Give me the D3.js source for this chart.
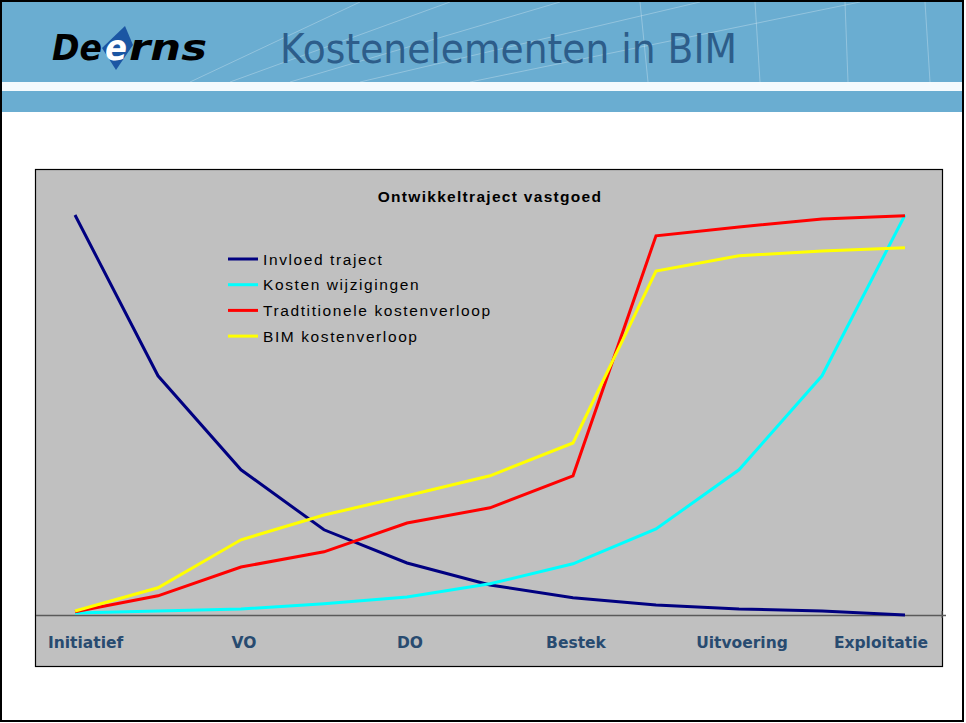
<!DOCTYPE html>
<html>
<head>
<meta charset="utf-8">
<script src="https://cdn.jsdelivr.net/npm/d3@7"></script>
<style>
  body { margin: 0; background: #fff; }
  svg { display: block; }
</style>
</head>
<body>
<svg width="966" height="723"></svg>
<script>
// values, 0..100 scale, 11 steps along the traject
const phases = ['Initiatief', 'VO', 'DO', 'Bestek', 'Uitvoering', 'Exploitatie'];
const steps = d3.range(11);
const invloed = [100, 59.8, 36.3, 21.3, 13, 7.5, 4.3, 2.5, 1.5, 1, 0];
const wijzigingen = [0.5, 1, 1.5, 2.8, 4.5, 7.8, 12.8, 21.5, 36.3, 59.8, 100];
const traditioneel = [0.8, 4.8, 12, 15.8, 23, 26.8, 34.8, 94.8, 97, 99, 99.8];
const bim = [1, 6.8, 18.8, 25, 29.8, 34.8, 43, 86, 89.8, 91, 91.8];

const seriesNames = ['Invloed traject', 'Kosten wijzigingen', 'Tradtitionele kostenverloop', 'BIM kostenverloop'];
const seriesColors = ['#000080', '#00ffff', '#ff0000', '#ffff00'];
const seriesData = [invloed, wijzigingen, traditioneel, bim];

const svg = d3.select('svg');

// slide header
svg.append('rect').attr('x', 0).attr('y', 0).attr('width', 966).attr('height', 723).attr('fill', '#fff');
svg.append('rect').attr('x', 1).attr('y', 1).attr('width', 963).attr('height', 81).attr('fill', '#6aadd1');
svg.append('rect').attr('x', 1).attr('y', 82).attr('width', 963).attr('height', 9).attr('fill', '#f4fafd');
svg.append('rect').attr('x', 1).attr('y', 91).attr('width', 963).attr('height', 21).attr('fill', '#6aadd1');

// faint swoosh lines in the header
const deco = [[190, 82, 360, 2], [230, 82, 450, 2], [290, 82, 560, 2], [360, 82, 700, 2],
              [470, 82, 860, 2], [640, 2, 648, 82], [755, 2, 760, 82], [845, 2, 848, 82], [925, 2, 930, 82]];
svg.append('g').selectAll('line').data(deco).enter()
  .append('line')
  .attr('x1', d => d[0]).attr('y1', d => d[1])
  .attr('x2', d => d[2]).attr('y2', d => d[3])
  .attr('stroke', '#ffffff').attr('stroke-opacity', 0.35).attr('stroke-width', 0.8);

// logo
const logoFont = t => t.attr('font-family', 'DejaVu Sans').attr('font-weight', 'bold')
  .attr('font-style', 'italic').attr('font-size', 35).attr('lengthAdjust', 'spacingAndGlyphs');
svg.append('text').attr('x', 52).attr('y', 60).attr('fill', '#000')
  .call(logoFont).attr('textLength', 50).text('De');
svg.append('path').attr('d', 'M125,26 L133,45 L116,70 L102,48 Z').attr('fill', '#1b56a3');
svg.append('text').attr('x', 105).attr('y', 60).attr('fill', '#fff')
  .call(logoFont).attr('textLength', 22).text('e');
svg.append('text').attr('x', 129).attr('y', 60).attr('fill', '#000')
  .call(logoFont).attr('textLength', 78).text('rns');

svg.append('text').attr('x', 280).attr('y', 63)
  .attr('font-family', 'DejaVu Sans').attr('font-size', 41).attr('fill', '#2d5d8a')
  .attr('textLength', 457).attr('lengthAdjust', 'spacingAndGlyphs')
  .text('Kostenelementen in BIM');

// slide frame
svg.append('rect').attr('x', 1).attr('y', 1).attr('width', 962).attr('height', 720)
  .attr('fill', 'none').attr('stroke', '#000').attr('stroke-width', 2);

// chart box
svg.append('rect').attr('x', 35.5).attr('y', 169.5).attr('width', 907).attr('height', 497)
  .attr('fill', '#c0c0c0').attr('stroke', '#000').attr('stroke-width', 1.2);

svg.append('text').attr('x', 490).attr('y', 202).attr('text-anchor', 'middle')
  .attr('font-family', 'Liberation Sans, Arial').attr('font-weight', 'bold').attr('font-size', 15.5)
  .attr('letter-spacing', 1.3).attr('fill', '#000')
  .text('Ontwikkeltraject vastgoed');

const x = d3.scaleLinear().domain([0, 10]).range([75, 905]);
const y = d3.scaleLinear().domain([0, 100]).range([615, 215]);

// category axis
const xAxis = d3.axisBottom(x).tickValues([]).tickSizeOuter(0);
const axisG = svg.append('g').attr('transform', `translate(0,${y(0)})`).call(xAxis);
axisG.select('.domain').attr('d', 'M36,0.5H946').attr('stroke', '#5a5a5a').attr('stroke-width', 1.5);
svg.append('line').attr('x1', 942).attr('x2', 942).attr('y1', y(0) - 4).attr('y2', y(0) + 3)
  .attr('stroke', '#5a5a5a');

svg.append('g').selectAll('text').data(phases).enter()
  .append('text')
  .attr('x', (d, i) => i === 0 ? 48 : i === phases.length - 1 ? 928 : x(i * 2) + 3)
  .attr('y', 648)
  .attr('text-anchor', (d, i) => i === 0 ? 'start' : i === phases.length - 1 ? 'end' : 'middle')
  .attr('font-family', 'DejaVu Sans').attr('font-weight', 'bold').attr('font-size', 15.5)
  .attr('fill', '#284b70')
  .text(d => d);

// series lines
const line = d3.line().x((d, i) => x(steps[i])).y(d => y(d));

svg.append('g').selectAll('path').data(seriesData).enter()
  .append('path')
  .attr('fill', 'none')
  .attr('stroke', (d, i) => seriesColors[i])
  .attr('stroke-width', 3)
  .attr('stroke-linejoin', 'miter')
  .attr('d', d => line(d));

// legend
const legend = svg.append('g').attr('transform', 'translate(228,259)');
const rows = legend.selectAll('g').data(seriesNames).enter()
  .append('g').attr('transform', (d, i) => `translate(0,${i * 25.7})`);
rows.append('line').attr('x1', 0).attr('x2', 30).attr('y1', 0).attr('y2', 0)
  .attr('stroke', (d, i) => seriesColors[i]).attr('stroke-width', 3);
rows.append('text').attr('x', 35).attr('y', 5.5)
  .attr('font-family', 'Liberation Sans, Arial').attr('font-size', 15.5)
  .attr('letter-spacing', 1.6).attr('fill', '#000')
  .text(d => d);
</script>
</body>
</html>
